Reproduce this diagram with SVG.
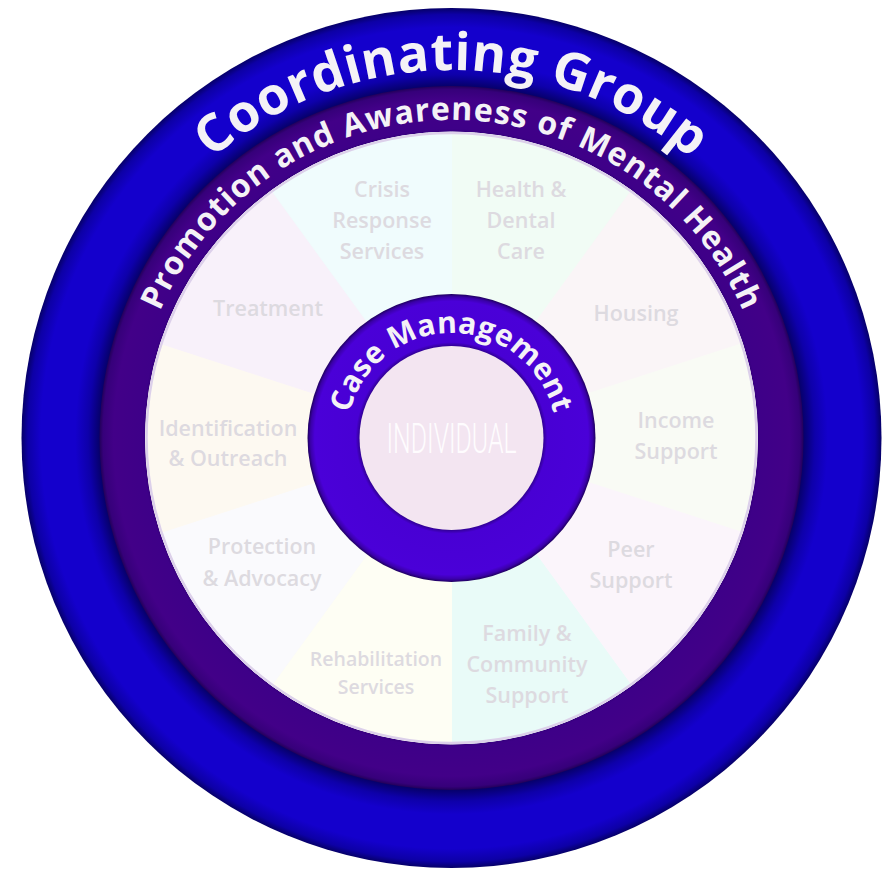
<svg xmlns="http://www.w3.org/2000/svg" width="892" height="870" viewBox="0 0 892 870">
<defs>
<radialGradient id="gBlue" gradientUnits="userSpaceOnUse" cx="451.5" cy="438" r="430">
<stop offset="0.80" stop-color="#000040"/>
<stop offset="0.818" stop-color="#06006a"/>
<stop offset="0.845" stop-color="#0e00aa"/>
<stop offset="0.875" stop-color="#1400cc"/>
<stop offset="0.955" stop-color="#1400cc"/>
<stop offset="0.985" stop-color="#0d00a6"/>
<stop offset="1" stop-color="#060068"/>
</radialGradient>
<radialGradient id="gPurple" gradientUnits="userSpaceOnUse" cx="451.5" cy="438" r="352">
<stop offset="0.86" stop-color="#2c0070"/>
<stop offset="0.878" stop-color="#3e0088"/>
<stop offset="0.96" stop-color="#420088"/>
<stop offset="0.99" stop-color="#36007a"/>
<stop offset="1" stop-color="#22005a"/>
</radialGradient>
<radialGradient id="gCase" gradientUnits="userSpaceOnUse" cx="451.5" cy="438" r="144">
<stop offset="0.63" stop-color="#2a0080"/>
<stop offset="0.665" stop-color="#4800d4"/>
<stop offset="0.95" stop-color="#4a00d8"/>
<stop offset="0.98" stop-color="#3a00a8"/>
<stop offset="1" stop-color="#1e005c"/>
</radialGradient>
<path id="arcCoord" d="M83.5,438 A368,368 0 0 1 819.5,438"/>
<path id="arcPromo" d="M133.5,438 A318,318 0 0 1 769.5,438"/>
<path id="arcCase" d="M346.5,438 A105,105 0 0 1 556.5,438"/>
</defs>
<style>
.arcText{font-family:"Open Sans","DejaVu Sans",sans-serif;font-weight:700;fill:#f4f2f6}
.lbl{font-family:"Open Sans","DejaVu Sans",sans-serif;font-weight:600;font-size:21.5px;fill:#dddae0;text-anchor:middle}
.sm{font-size:19.5px}
.seg{stroke-width:1}
</style>

<g id="coordinating-group">
<circle cx="451.5" cy="438" r="430" fill="url(#gBlue)"/>
<text class="arcText" font-size="52"><textPath href="#arcCoord" startOffset="50%" text-anchor="middle" textLength="522" lengthAdjust="spacing">Coordinating Group</textPath></text>
</g>

<g id="promotion-awareness">
<circle cx="451.5" cy="438" r="352" fill="url(#gPurple)"/>
<text class="arcText" font-size="32"><textPath href="#arcPromo" startOffset="50%" text-anchor="middle" textLength="738" lengthAdjust="spacing">Promotion and Awareness of Mental Health</textPath></text>
</g>

<g id="services">
<circle cx="451.5" cy="438" r="306" fill="#f8f8f8"/>
<g id="health-dental-care">
<path class="seg" fill="#f1fcf5" stroke="#f1fcf5" d="M451.5,438 L451.5,132 A306,306 0 0 1 631.37,190.45 Z"/>
<text class="lbl" x="521" y="197">Health &amp;</text>
<text class="lbl" x="521" y="228">Dental</text>
<text class="lbl" x="521" y="259">Care</text>
</g>
<g id="housing">
<path class="seg" fill="#faf5f7" stroke="#faf5f7" d="M451.5,438 L631.37,190.45 A306,306 0 0 1 742.53,343.44 Z"/>
<text class="lbl" x="636" y="321">Housing</text>
</g>
<g id="income-support">
<path class="seg" fill="#f9fbf5" stroke="#f9fbf5" d="M451.5,438 L742.53,343.44 A306,306 0 0 1 742.53,532.56 Z"/>
<text class="lbl" x="676" y="428">Income</text>
<text class="lbl" x="676" y="459">Support</text>
</g>
<g id="peer-support">
<path class="seg" fill="#fbf5fb" stroke="#fbf5fb" d="M451.5,438 L742.53,532.56 A306,306 0 0 1 631.37,685.55 Z"/>
<text class="lbl" x="631" y="557">Peer</text>
<text class="lbl" x="631" y="588">Support</text>
</g>
<g id="family-community-support">
<path class="seg" fill="#e9fbf8" stroke="#e9fbf8" d="M451.5,438 L631.37,685.55 A306,306 0 0 1 451.5,744 Z"/>
<text class="lbl" x="527" y="641">Family &amp;</text>
<text class="lbl" x="527" y="672">Community</text>
<text class="lbl" x="527" y="703">Support</text>
</g>
<g id="rehabilitation-services">
<path class="seg" fill="#fefef4" stroke="#fefef4" d="M451.5,438 L451.5,744 A306,306 0 0 1 271.63,685.55 Z"/>
<text class="lbl sm" x="376" y="666">Rehabilitation</text>
<text class="lbl sm" x="376" y="694">Services</text>
</g>
<g id="protection-advocacy">
<path class="seg" fill="#fafafd" stroke="#fafafd" d="M451.5,438 L271.63,685.55 A306,306 0 0 1 160.47,532.56 Z"/>
<text class="lbl" x="262" y="554">Protection</text>
<text class="lbl" x="262" y="586">&amp; Advocacy</text>
</g>
<g id="identification-outreach">
<path class="seg" fill="#fdf9f1" stroke="#fdf9f1" d="M451.5,438 L160.47,532.56 A306,306 0 0 1 160.47,343.44 Z"/>
<text class="lbl" x="228" y="436">Identification</text>
<text class="lbl" x="228" y="466">&amp; Outreach</text>
</g>
<g id="treatment">
<path class="seg" fill="#f8f1fa" stroke="#f8f1fa" d="M451.5,438 L160.47,343.44 A306,306 0 0 1 271.63,190.45 Z"/>
<text class="lbl" x="268" y="316">Treatment</text>
</g>
<g id="crisis-response-services">
<path class="seg" fill="#f0fcfd" stroke="#f0fcfd" d="M451.5,438 L271.63,190.45 A306,306 0 0 1 451.5,132 Z"/>
<text class="lbl" x="382" y="197">Crisis</text>
<text class="lbl" x="382" y="228">Response</text>
<text class="lbl" x="382" y="259">Services</text>
</g>
<circle cx="451.5" cy="438" r="305" fill="none" stroke="#dcd0ea" stroke-width="2.5"/>
</g>

<g id="case-management">
<circle cx="451.5" cy="438" r="144" fill="url(#gCase)"/>
<text class="arcText" font-size="30"><textPath href="#arcCase" startOffset="50%" text-anchor="middle" textLength="280" lengthAdjust="spacing">Case Management</textPath></text>
</g>

<g id="individual">
<circle cx="451.5" cy="438" r="92" fill="#f3e5f1"/>
<text x="451.5" y="453" text-anchor="middle" font-family="Roboto,'Liberation Sans',sans-serif" font-weight="300" font-size="42" fill="#fefcfe" textLength="130" lengthAdjust="spacingAndGlyphs">INDIVIDUAL</text>
</g>

<g id="connectors"></g>
</svg>
